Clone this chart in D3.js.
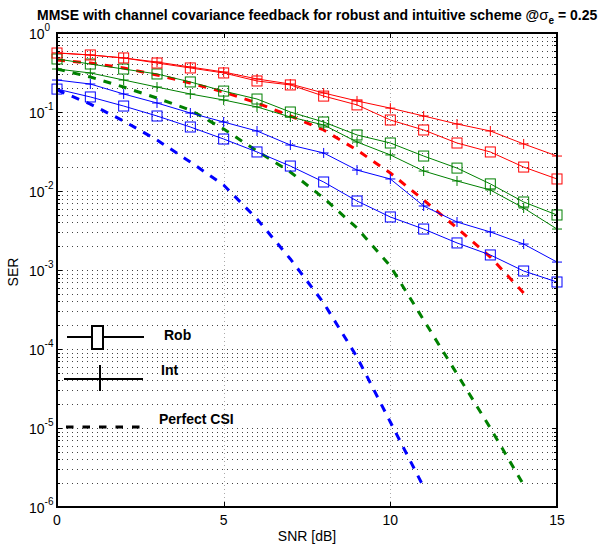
<!DOCTYPE html>
<html>
<head>
<meta charset="utf-8">
<script src="https://cdn.jsdelivr.net/npm/d3@7"></script>
<style>
  html, body { margin: 0; padding: 0; background: #fff; }
  svg { display: block; font-family: "Liberation Sans", Arial, sans-serif; }
</style>
</head>
<body>
<svg id="chart" width="605" height="544"></svg>
<script>
// ---------------- data ----------------
const snr = [0,1,2,3,4,5,6,7,8,9,10,11,12,13,14,15];

const redRob   = [0.558,0.527,0.483,0.417,0.361,0.312,0.247,0.220,0.159,0.123,0.0792,0.0592,0.0405,0.0312,0.0201,0.0142];
const redInt   = [0.56,0.527,0.483,0.429,0.371,0.321,0.262,0.226,0.174,0.138,0.112,0.0890,0.0705,0.0575,0.0394,0.0277];
const greenRob = [0.469,0.405,0.350,0.303,0.240,0.184,0.146,0.100,0.0747,0.0512,0.0405,0.0277,0.0195,0.0123,0.00726,0.00497];
const greenInt = [0.350,0.312,0.254,0.207,0.169,0.142,0.116,0.0864,0.0685,0.0417,0.0286,0.0179,0.0134,0.0103,0.00609,0.00330];
const blueRob  = [0.195,0.155,0.119,0.0890,0.0646,0.0455,0.0312,0.0207,0.0130,0.00747,0.00469,0.00330,0.00220,0.00155,0.000971,0.000705];
const blueInt  = [0.254,0.226,0.169,0.130,0.0971,0.0747,0.0575,0.0382,0.0303,0.0184,0.0142,0.00646,0.00405,0.00303,0.00213,0.00126];

const redPerfect   = [0.455,0.417,0.361,0.294,0.233,0.179,0.130,0.0890,0.0592,0.0330,0.0169,0.00769,0.00340,0.00146,0.000512];
const greenPerfect = [0.350,0.277,0.207,0.150,0.106,0.0609,0.0321,0.0174,0.00815,0.00340,0.00112,0.000233,0.0000483,0.0000100,0.0000019];
const bluePerfect  = [0.190,0.126,0.0769,0.0442,0.0233,0.0119,0.00442,0.00138,0.000382,0.0000792,0.0000119,0.00000179];

const xTicks = [0,5,10,15];
const yExponents = [0,-1,-2,-3,-4,-5,-6];

const legendLabels = ["Rob","Int","Perfect CSI"];

const titleMain = "MMSE with channel covariance feedback for robust and intuitive scheme @";
const titleSigma = "\u03C3";
const titleSub = "e";
const titleTail = " = 0.25";

// ---------------- layout ----------------
const svg = d3.select("#chart");
const L = 57, R = 557, T = 33, B = 507;

const x = d3.scaleLinear().domain([0,15]).range([L,R]);
const y = d3.scaleLog().domain([1e-6,1]).range([B,T]);
const snap = v => Math.round(v) + 0.5;

// grid: horizontal (major + minor)
const gridVals = [];
for (let k = -6; k <= 0; k++) {
  gridVals.push({v: Math.pow(10,k), major: true});
  if (k < 0) for (let m = 2; m <= 9; m++) gridVals.push({v: m*Math.pow(10,k), major: false});
}
const grid = svg.append("g");
grid.selectAll("line.h").data(gridVals).join("line")
  .attr("x1", L).attr("x2", R)
  .attr("y1", d => snap(y(d.v))).attr("y2", d => snap(y(d.v)))
  .attr("stroke", "#444").attr("stroke-width", 1)
  .attr("stroke-dasharray", "1,4");
grid.selectAll("line.v").data([5,10]).join("line")
  .attr("x1", d => snap(x(d))).attr("x2", d => snap(x(d)))
  .attr("y1", T).attr("y2", B)
  .attr("stroke", "#aaa").attr("stroke-width", 1)
  .attr("stroke-dasharray", "1,3");

// ticks
const ticks = svg.append("g").attr("stroke", "#000").attr("stroke-width", 1);
gridVals.forEach(d => {
  const len = d.major ? 5 : 3;
  const yy = snap(y(d.v));
  ticks.append("line").attr("x1", L).attr("x2", L+len).attr("y1", yy).attr("y2", yy);
  ticks.append("line").attr("x1", R).attr("x2", R-len).attr("y1", yy).attr("y2", yy);
});
xTicks.forEach(t => {
  ticks.append("line").attr("x1", snap(x(t))).attr("x2", snap(x(t))).attr("y1", B).attr("y2", B-5);
  ticks.append("line").attr("x1", snap(x(t))).attr("x2", snap(x(t))).attr("y1", T).attr("y2", T+5);
});

// ---------------- series ----------------
const line = d3.line().x((d,i) => x(snr[i])).y(d => y(d));
const plot = svg.append("g");

function perfect(data, color) {
  plot.append("path").datum(data)
    .attr("d", line).attr("fill", "none")
    .attr("stroke", color).attr("stroke-width", 3)
    .attr("stroke-dasharray", "8,8");
}
function series(data, color, marker) {
  plot.append("path").datum(data)
    .attr("d", line).attr("fill", "none")
    .attr("stroke", color).attr("stroke-width", 1);
  const g = plot.append("g").attr("stroke", color).attr("stroke-width", 1).attr("fill", "none");
  data.forEach((v,i) => {
    const cx = x(snr[i]), cy = y(v);
    if (marker === "square") {
      g.append("rect").attr("x", cx-5).attr("y", cy-5).attr("width", 10).attr("height", 10);
    } else {
      g.append("line").attr("x1", cx-5).attr("x2", cx+5).attr("y1", cy).attr("y2", cy);
      g.append("line").attr("x1", cx).attr("x2", cx).attr("y1", cy-5).attr("y2", cy+5);
    }
  });
}

perfect(bluePerfect, "#0000ff");
perfect(greenPerfect, "#008000");
perfect(redPerfect, "#ff0000");
series(blueRob, "#0000ff", "square");
series(blueInt, "#0000ff", "plus");
series(greenRob, "#008000", "square");
series(greenInt, "#008000", "plus");
series(redRob, "#ff0000", "square");
series(redInt, "#ff0000", "plus");

// ---------------- frame ----------------
svg.append("rect").attr("x", L).attr("y", T).attr("width", R-L).attr("height", B-T)
  .attr("fill", "none").attr("stroke", "#000").attr("stroke-width", 2);

// ---------------- tick labels ----------------
const yl = svg.append("g").attr("fill", "#000");
yExponents.forEach(e => {
  const yy = y(Math.pow(10,e));
  const t = yl.append("text").attr("x", 29).attr("y", yy+5.5).attr("font-size", 14);
  t.append("tspan").text("10");
  t.append("tspan").attr("font-size", 10).attr("dy", -7.5).text(String(e));
});
svg.append("g").selectAll("text").data(xTicks).join("text")
  .attr("x", d => x(d)).attr("y", 525).attr("text-anchor", "middle")
  .attr("font-size", 14).text(d => d);

svg.append("text").attr("x", (L+R)/2).attr("y", 541).attr("text-anchor", "middle")
  .attr("font-size", 14).text("SNR [dB]");
svg.append("text").attr("transform", "translate(18,272) rotate(-90)")
  .attr("text-anchor", "middle").attr("font-size", 14).text("SER");

// ---------------- title ----------------
const title = svg.append("text").attr("x", 37).attr("y", 19.5)
  .attr("font-size", 14).attr("font-weight", "bold");
title.append("tspan").text(titleMain);
title.append("tspan").attr("font-weight", "normal").attr("font-size", 15).text(titleSigma);
title.append("tspan").attr("font-size", 10).attr("dy", 4).text(titleSub);
title.append("tspan").attr("dy", -4).text(titleTail);

// ---------------- legend ----------------
const lg = svg.append("g");
lg.append("line").attr("x1", 67).attr("x2", 144).attr("y1", 337).attr("y2", 337)
  .attr("stroke", "#000").attr("stroke-width", 2);
lg.append("rect").attr("x", 92).attr("y", 326).attr("width", 11).attr("height", 23)
  .attr("fill", "#fff").attr("stroke", "#000").attr("stroke-width", 2);
lg.append("line").attr("x1", 64).attr("x2", 143).attr("y1", 379).attr("y2", 379)
  .attr("stroke", "#000").attr("stroke-width", 2);
lg.append("line").attr("x1", 100).attr("x2", 100).attr("y1", 365).attr("y2", 391)
  .attr("stroke", "#000").attr("stroke-width", 2);
lg.append("line").attr("x1", 66).attr("x2", 141).attr("y1", 427).attr("y2", 427)
  .attr("stroke", "#000").attr("stroke-width", 3).attr("stroke-dasharray", "7.5,9");
const legY = [339.5, 375, 424];
const legX = [164, 161, 159];
legendLabels.forEach((s,i) => {
  lg.append("text").attr("x", legX[i]).attr("y", legY[i])
    .attr("font-size", 14).attr("font-weight", "bold").text(s);
});
</script>
</body>
</html>
